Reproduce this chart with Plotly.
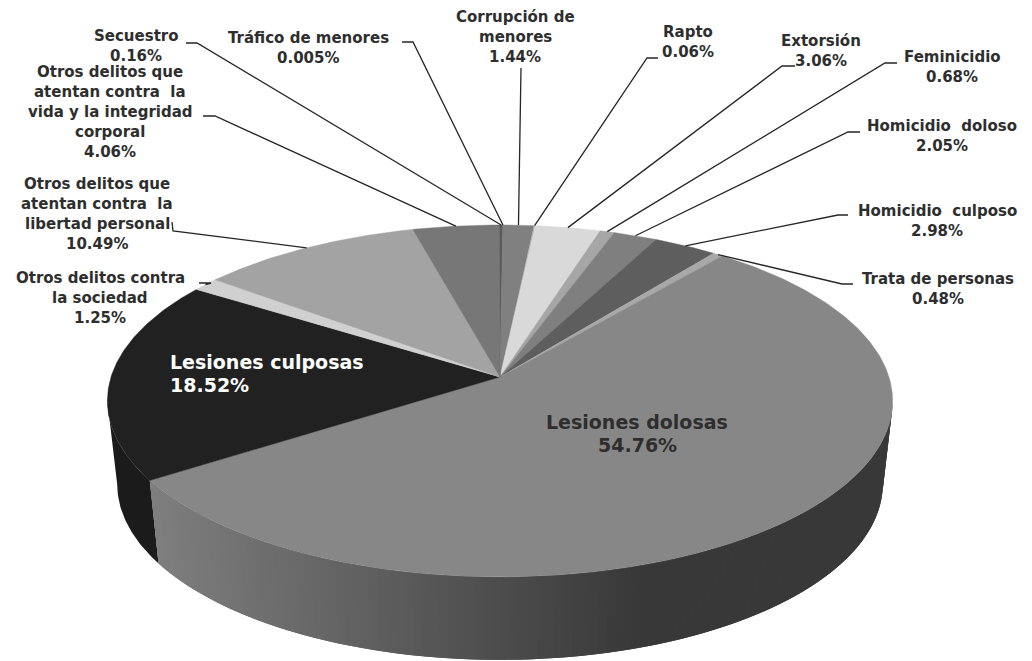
import numpy as np
import plotly.graph_objects as go

# ---- data (clockwise from 12 o'clock) ----
categories = ["Corrupción de menores", "Rapto", "Extorsión", "Feminicidio", "Homicidio doloso",
              "Homicidio culposo", "Trata de personas", "Lesiones dolosas", "Lesiones culposas",
              "Otros delitos contra la sociedad", "Otros delitos que atentan contra la libertad personal",
              "Otros delitos que atentan contra la vida y la integridad corporal", "Secuestro",
              "Tráfico de menores"]
values = [1.44, 0.06, 3.06, 0.68, 2.05, 2.98, 0.48, 54.76, 18.52, 1.25, 10.49, 4.06, 0.16, 0.005]
colors = ["#808080", "#9a9a9a", "#d9d9d9", "#a6a6a6", "#7f7f7f", "#5e5e5e", "#a8a8a8", "#878787",
          "#212121", "#d0d0d0", "#a3a3a3", "#777777", "#5a5a5a", "#8a8a8a"]

# ---- label text lines and layout (page pixels) ----
label_lines = [["Corrupción de", "menores", "1.44%"], ["Rapto", "0.06%"], ["Extorsión", "3.06%"],
               ["Feminicidio", "0.68%"], ["Homicidio  doloso", "2.05%"], ["Homicidio  culposo", "2.98%"],
               ["Trata de personas", "0.48%"], ["Lesiones dolosas", "54.76%"], ["Lesiones culposas", "18.52%"],
               ["Otros delitos contra", "la sociedad", "1.25%"],
               ["Otros delitos que", "atentan contra  la", "libertad personal", "10.49%"],
               ["Otros delitos que", "atentan contra  la", "vida y la integridad", "corporal", "4.06%"],
               ["Secuestro", "0.16%"], ["Tráfico de menores", "0.005%"]]
label_x = [515, 688, 821, 952, 942, 937, 938, 637, 168, 100, 97, 110, 136, 308]
label_y = [17, 32, 41, 57, 126, 211, 279, 422, 362, 278, 184, 72, 36, 38]
leader_paths = [[(521, 68)], [(647, 58), (658, 58)], [(782, 66), (795, 66)], [(885, 63), (897, 63)],
                [(848, 132), (860, 132)], [(838, 215), (848, 215)], [(842, 284), (853, 284)], [], [],
                [(211, 283), (199, 283)], [(173, 231), (172, 222)], [(215, 116), (203, 116)],
                [(197, 43), (186, 43)], [(413, 42), (402, 42)]]

# ---- projection of the tilted disc ----
APEX_X, APEX_Y = 500, 377
RX, RY, K = 389, 172.7, 0.136
DEPTH, BOTTOM_SCALE = 83, 0.975
START_DEG = 0.5


def top(theta):
    x, y = np.sin(theta), -np.cos(theta)
    w = 1 - K * y
    return APEX_X + RX * x / w, APEX_Y + RY * y / w


def bottom(theta):
    x, y = top(theta)
    return APEX_X + (x - APEX_X) * BOTTOM_SCALE, y + DEPTH


fractions = np.array(values) / sum(values)
edges = np.radians(START_DEG) + 2 * np.pi * np.concatenate([[0], np.cumsum(fractions)])
right_extreme = np.arccos(-K)
left_extreme = 2 * np.pi - right_extreme

fig = go.Figure()


def poly(xs, ys, color, name="", lw=0.0):
    fig.add_trace(go.Scatter(x=xs, y=ys, mode="lines", fill="toself", fillcolor=color,
                             line=dict(color=color, width=lw), hoverinfo="skip",
                             showlegend=False, name=name))


# side wall of Lesiones culposas (only up to the left silhouette)
i_c = categories.index("Lesiones culposas")
t = np.linspace(edges[i_c], left_extreme, 40)
tx, ty = top(t)
bx, by = bottom(t)
poly(np.r_[tx, bx[::-1]], np.r_[ty, by[::-1]], "#1b1b1b", "wall culposas")

# side wall of Lesiones dolosas, shaded left to right (from the right silhouette)
i_d = categories.index("Lesiones dolosas")
t = np.linspace(right_extreme, edges[i_d + 1], 121)
for k in range(len(t) - 1):
    sub = t[k:k + 3]          # spans two steps so neighbours overlap and no seam shows
    tx, ty = top(sub)
    bx, by = bottom(sub)
    xm = (tx[0] + bx[0]) / 2
    shade = int(np.clip(0x38 + (650 - xm) / 500 * (0x80 - 0x38), 0x38, 0x80))
    poly(np.r_[tx, bx[::-1]], np.r_[ty, by[::-1]], f"rgb({shade},{shade},{shade})")

# top face
for i, c in enumerate(categories):
    t = np.linspace(edges[i], edges[i + 1], max(3, int(values[i] * 6)))
    tx, ty = top(t)
    poly(np.r_[APEX_X, tx, APEX_X], np.r_[APEX_Y, ty, APEX_Y], colors[i], c, lw=0.4)

# leader lines, from the rim at each slice's middle
for i, path in enumerate(leader_paths):
    if not path:
        continue
    sx, sy = top((edges[i] + edges[i + 1]) / 2)
    xs = [float(sx)] + [p[0] for p in path]
    ys = [float(sy)] + [p[1] for p in path]
    fig.add_trace(go.Scatter(x=xs, y=ys, mode="lines", line=dict(color="#262626", width=1.3),
                             hoverinfo="skip", showlegend=False))

# labels
for i, lines in enumerate(label_lines):
    big = categories[i].startswith("Lesiones")
    for j, txt in enumerate(lines):
        fig.add_annotation(x=label_x[i], y=label_y[i] + j * (23 if big else 20), text=txt, showarrow=False,
                           xanchor="left" if categories[i] == "Lesiones culposas" else "center",
                           yanchor="middle",
                           font=dict(family="DejaVu Sans", size=19 if big else 15, weight=700,
                                     color="#ffffff" if categories[i] == "Lesiones culposas" else "#2e2e2e"))

fig.update_layout(width=1032, height=661, margin=dict(l=0, r=0, t=0, b=0),
                  paper_bgcolor="white", plot_bgcolor="white", showlegend=False,
                  xaxis=dict(range=[0, 1032], visible=False),
                  yaxis=dict(range=[661, 0], visible=False))
fig.write_html("out.html", config={"displayModeBar": False},
               post_script="document.body.style.margin='0';document.documentElement.style.overflow='hidden';")
